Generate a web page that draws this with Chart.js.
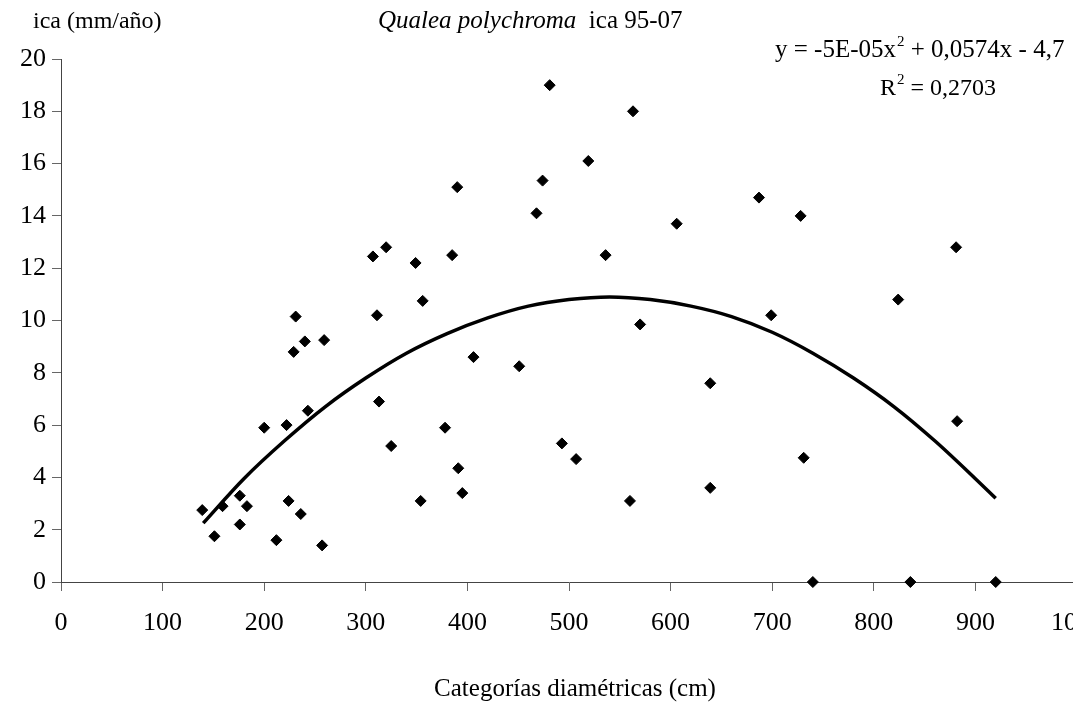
<!DOCTYPE html>
<html>
<head>
<meta charset="utf-8">
<script src="https://cdn.jsdelivr.net/npm/chart.js@4.4.0/dist/chart.umd.min.js"></script>
<style>
html, body { margin: 0; padding: 0; background: #fff; overflow: hidden; }
#wrap { width: 1120px; height: 702px; }
</style>
</head>
<body>
<div id="wrap"><canvas id="chart" width="1120" height="702"></canvas></div>
<script>
// diámetro (cm) e ica (mm/año) de cada árbol
const diameters = [139, 151, 159, 176, 176, 183, 200, 212, 222, 224,
    229, 231, 236, 240, 243, 257, 259, 307, 311, 313,
    320, 325, 349, 354, 356, 378, 385, 390, 391, 395,
    406, 451, 468, 474, 481, 493, 507, 519, 536, 560,
    563, 570, 606, 639, 639, 687, 699, 728, 731, 740,
    824, 836, 881, 882, 920];
const icaValues = [2.75, 1.75, 2.9, 3.3, 2.2, 2.9, 5.9, 1.6, 6.0, 3.1,
    8.8, 10.15, 2.6, 9.2, 6.55, 1.4, 9.25, 12.45, 10.2, 6.9,
    12.8, 5.2, 12.2, 3.1, 10.75, 5.9, 12.5, 15.1, 4.35, 3.4,
    8.6, 8.25, 14.1, 15.35, 19.0, 5.3, 4.7, 16.1, 12.5, 3.1,
    18.0, 9.85, 13.7, 7.6, 3.6, 14.7, 10.2, 14.0, 4.75, 0,
    10.8, 0, 12.8, 6.15, 0];

// curva de tendencia
const trendX = [140, 180, 220, 260, 300, 340, 380, 420, 460, 500, 540,
    580, 620, 660, 700, 740, 780, 820, 860, 900, 920];
const trendY = [2.25, 3.95, 5.4, 6.7, 7.8, 8.75, 9.5, 10.1, 10.55, 10.8, 10.9,
    10.8, 10.55, 10.15, 9.55, 8.75, 7.8, 6.7, 5.4, 3.95, 3.2];

const xTicks = [0, 100, 200, 300, 400, 500, 600, 700, 800, 900, 1000];
const yTicks = [0, 2, 4, 6, 8, 10, 12, 14, 16, 18, 20];

const yTitle = "ica (mm/año)";
const titleItalic = "Qualea polychroma";
const titleRest = "  ica 95-07";
const xTitle = "Categorías diamétricas (cm)";
const eqParts = ["y = -5E-05x", "2", " + 0,0574x - 4,7"];
const r2Parts = ["R", "2", " = 0,2703"];

const FONT = "'Liberation Serif', 'Times New Roman', serif";

function drawWithSup(ctx, parts, x, y, size) {
    ctx.font = size + "px " + FONT;
    ctx.fillText(parts[0], x, y);
    x += ctx.measureText(parts[0]).width;
    ctx.font = "15px " + FONT;
    ctx.fillText(parts[1], x + 1, y - 11);
    x += ctx.measureText(parts[1]).width + 1;
    ctx.font = size + "px " + FONT;
    ctx.fillText(parts[2], x, y);
}

const textPlugin = {
    id: "texts",
    afterDraw(chart) {
        const ctx = chart.ctx;
        ctx.save();
        ctx.fillStyle = "#000";
        ctx.textBaseline = "alphabetic";
        ctx.textAlign = "left";
        ctx.font = "24px " + FONT;
        ctx.fillText(yTitle, 33, 28);

        ctx.font = "italic 25px " + FONT;
        ctx.fillText(titleItalic, 378, 28);
        var w = ctx.measureText(titleItalic).width;
        ctx.font = "25px " + FONT;
        ctx.fillText(titleRest, 378 + w, 28);

        drawWithSup(ctx, eqParts, 775, 57, 25);
        drawWithSup(ctx, r2Parts, 880, 95, 24);

        ctx.font = "25px " + FONT;
        ctx.textAlign = "center";
        ctx.fillText(xTitle, 575, 696);
        ctx.restore();
    }
};

var points = [];
for (var i = 0; i < diameters.length; i++) {
    points.push({x: diameters[i], y: icaValues[i]});
}
var trend = [];
for (var j = 0; j < trendX.length; j++) {
    trend.push({x: trendX[j], y: trendY[j]});
}

new Chart(document.getElementById("chart"), {
    type: "scatter",
    data: {
        datasets: [{
            data: trend,
            showLine: true,
            borderColor: "#000",
            borderWidth: 3.5,
            pointRadius: 0,
            tension: 0.4,
            cubicInterpolationMode: "monotone",
            clip: false
        }, {
            data: points,
            pointStyle: "rectRot",
            pointRadius: 5.5,
            borderWidth: 1,
            backgroundColor: "#000",
            borderColor: "#000",
            clip: false
        }]
    },
    options: {
        responsive: false,
        animation: false,
        layout: { padding: { left: 0, top: 59, right: 42, bottom: 0 } },
        plugins: { legend: { display: false }, tooltip: { enabled: false } },
        scales: {
            x: {
                type: "linear",
                min: 0,
                max: 1000,
                afterBuildTicks: function (scale) {
                    scale.ticks = xTicks.map(function (v) { return {value: v}; });
                },
                afterFit: function (scale) { scale.height = 120; },
                grid: { drawOnChartArea: false, drawTicks: true, tickLength: 9, color: "#666" },
                border: { display: true, color: "#444", width: 1 },
                ticks: {
                    color: "#000", padding: 17, maxRotation: 0,
                    font: { family: FONT, size: 26 },
                    callback: function (v) { return String(v); }
                }
            },
            y: {
                type: "linear",
                min: 0,
                max: 20,
                afterBuildTicks: function (scale) {
                    scale.ticks = yTicks.map(function (v) { return {value: v}; });
                },
                afterFit: function (scale) { scale.width = 61; },
                grid: { drawOnChartArea: false, drawTicks: true, tickLength: 9, color: "#666" },
                border: { display: true, color: "#444", width: 1 },
                ticks: {
                    color: "#000", padding: 6,
                    font: { family: FONT, size: 26 },
                    callback: function (v) { return String(v); }
                }
            }
        }
    },
    plugins: [textPlugin]
});
</script>
</body>
</html>
